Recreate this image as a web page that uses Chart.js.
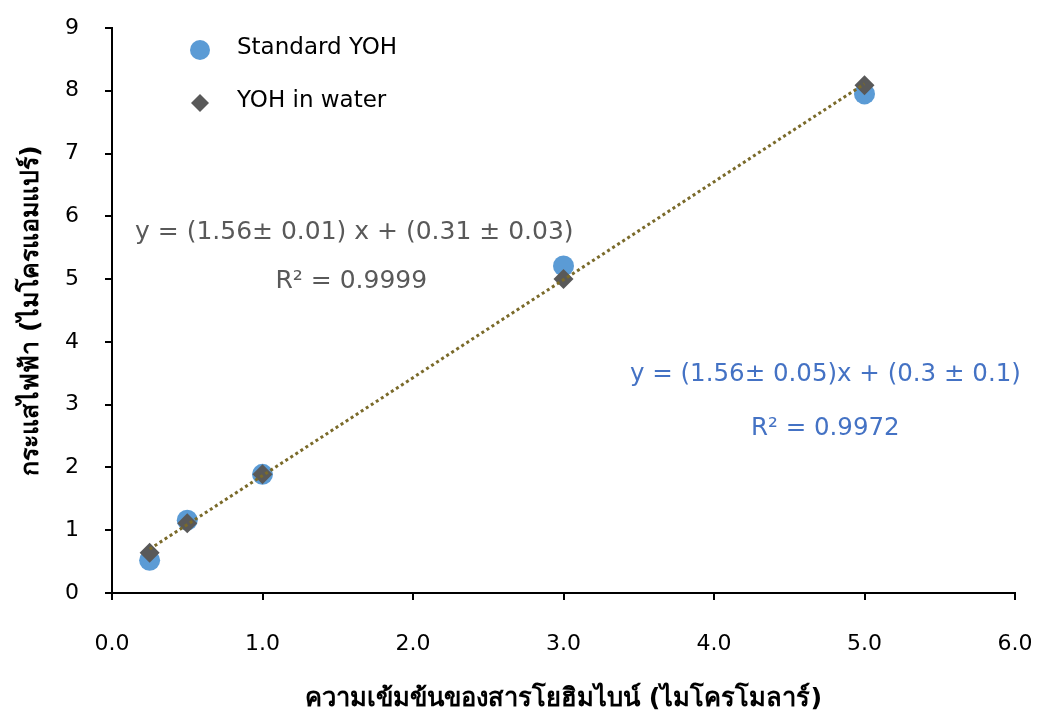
<!DOCTYPE html>
<html>
<head>
<meta charset="utf-8">
<script src="https://cdn.jsdelivr.net/npm/chart.js@4.4.1/dist/chart.umd.min.js"></script>
<style>
  html, body { margin: 0; padding: 0; background: #ffffff; }
  #wrap { width: 1037px; height: 717px; position: relative; }
</style>
</head>
<body>
<div id="wrap"><canvas id="c" width="1037" height="717"></canvas></div>
<script>
// Concentration (µM) of yohimbine
const concentrations = [0.25, 0.5, 1.0, 3.0, 5.0];
// Measured current (µA)
const standardYOH = [0.52, 1.16, 1.89, 5.21, 7.95];
const yohInWater  = [0.64, 1.11, 1.89, 5.00, 8.09];
// Linear fit drawn between the first and last concentration
const fitX = [0.25, 5.0];
const fitY = [0.70, 8.11];
// Axis tick values
const xTicks = [0, 1, 2, 3, 4, 5, 6];
const yTicks = [0, 1, 2, 3, 4, 5, 6, 7, 8, 9];

const seriesNames = ['Standard YOH', 'YOH in water'];
const fitLabels = [
  { lines: ['y = (1.56\u00b1 0.01) x + (0.31 \u00b1 0.03)', 'R\u00b2 = 0.9999'], color: '#595959', size: 25 },
  { lines: ['y = (1.56\u00b1 0.05)x + (0.3 \u00b1 0.1)', 'R\u00b2 = 0.9972'], color: '#4472C4', size: 24.5 }
];
const xTitle = 'ความเข้มข้นของสารโยฮิมไบน์ (ไมโครโมลาร์)';
const yTitle = 'กระแสไฟฟ้า (ไมโครแอมแปร์)';

const FONT = "Tahoma, 'DejaVu Sans', 'Noto Sans', sans-serif";
const BLUE = '#5B9BD5';
const GREY = '#595959';

const pts = (xs, ys) => xs.map((x, i) => ({ x: x, y: ys[i] }));

// Legend and equation text drawn on top of the plot
const overlay = {
  id: 'overlay',
  afterDatasetsDraw(chart) {
    const ctx = chart.ctx;
    const xs = chart.scales.x, ys = chart.scales.y;
    ctx.save();
    // legend markers
    ctx.fillStyle = BLUE;
    ctx.beginPath(); ctx.arc(200, 50, 10, 0, Math.PI * 2); ctx.fill();
    ctx.fillStyle = GREY;
    ctx.beginPath();
    ctx.moveTo(200, 94); ctx.lineTo(209, 103); ctx.lineTo(200, 112); ctx.lineTo(191, 103); ctx.closePath(); ctx.fill();
    // legend labels
    ctx.fillStyle = '#000000';
    ctx.font = '23px ' + FONT;
    ctx.textAlign = 'left';
    ctx.textBaseline = 'middle';
    ctx.fillText(seriesNames[0], 237, 48);
    ctx.fillText(seriesNames[1], 237, 101);

    // fit equations
    ctx.textAlign = 'center';
    const spots = [
      [{ x: 1.61, y: 5.74 }, { x: 1.59, y: 4.96 }],
      [{ x: 4.74, y: 3.48 }, { x: 4.74, y: 2.62 }]
    ];
    fitLabels.forEach((f, k) => {
      ctx.fillStyle = f.color;
      ctx.font = f.size + 'px ' + FONT;
      f.lines.forEach((t, j) => {
        ctx.fillText(t, xs.getPixelForValue(spots[k][j].x), ys.getPixelForValue(spots[k][j].y));
      });
    });
    ctx.restore();
  }
};

new Chart(document.getElementById('c'), {
  type: 'scatter',
  data: {
    datasets: [
      {
        label: seriesNames[1],
        data: pts(concentrations, yohInWater),
        pointStyle: 'rectRot',
        pointRadius: 10,
        backgroundColor: GREY,
        borderWidth: 0,
        order: 1
      },
      {
        label: seriesNames[0],
        data: pts(concentrations, standardYOH),
        pointStyle: 'circle',
        pointRadius: 10.5,
        backgroundColor: BLUE,
        borderWidth: 0,
        order: 2
      },
      {
        label: 'fit',
        type: 'line',
        data: pts(fitX, fitY),
        showLine: true,
        pointRadius: 0,
        borderColor: '#7A6A2A',
        borderWidth: 3,
        borderDash: [3, 3],
        borderCapStyle: 'butt',
        fill: false,
        order: 0
      }
    ]
  },
  options: {
    responsive: false,
    animation: false,
    devicePixelRatio: 1,
    layout: { padding: 0 },
    plugins: {
      legend: { display: false },
      tooltip: { enabled: false }
    },
    scales: {
      x: {
        type: 'linear',
        min: 0, max: 6,
        afterBuildTicks: s => { s.ticks = xTicks.map(v => ({ value: v })); },
        afterFit: s => { s.height = 124; s.paddingLeft = 0; s.paddingRight = 22; },
        ticks: {
          padding: 31,
          color: '#000000',
          font: { family: FONT, size: 22 },
          callback: v => Number(v).toFixed(1),
          maxRotation: 0
        },
        grid: { drawOnChartArea: false, drawTicks: true, tickLength: 7, color: '#000000', lineWidth: 2 },
        border: { color: '#000000', width: 2 },
        title: {
          display: true,
          text: xTitle,
          color: '#000000',
          font: { family: FONT, size: 25.5, weight: 'bold' },
          padding: { top: 10, bottom: 2 }
        }
      },
      y: {
        type: 'linear',
        min: 0, max: 9,
        afterBuildTicks: s => { s.ticks = yTicks.map(v => ({ value: v })); },
        afterFit: s => { s.width = 112; s.paddingTop = 28; s.paddingBottom = 0; },
        ticks: {
          padding: 26,
          color: '#000000',
          font: { family: FONT, size: 22 }
        },
        grid: { drawOnChartArea: false, drawTicks: true, tickLength: 7, color: '#000000', lineWidth: 2 },
        border: { color: '#000000', width: 2 },
        title: {
          display: true,
          text: yTitle,
          color: '#000000',
          font: { family: FONT, size: 25, weight: 'bold' },
          padding: { top: 16, bottom: 0 }
        }
      }
    }
  },
  plugins: [overlay]
});
</script>
</body>
</html>
